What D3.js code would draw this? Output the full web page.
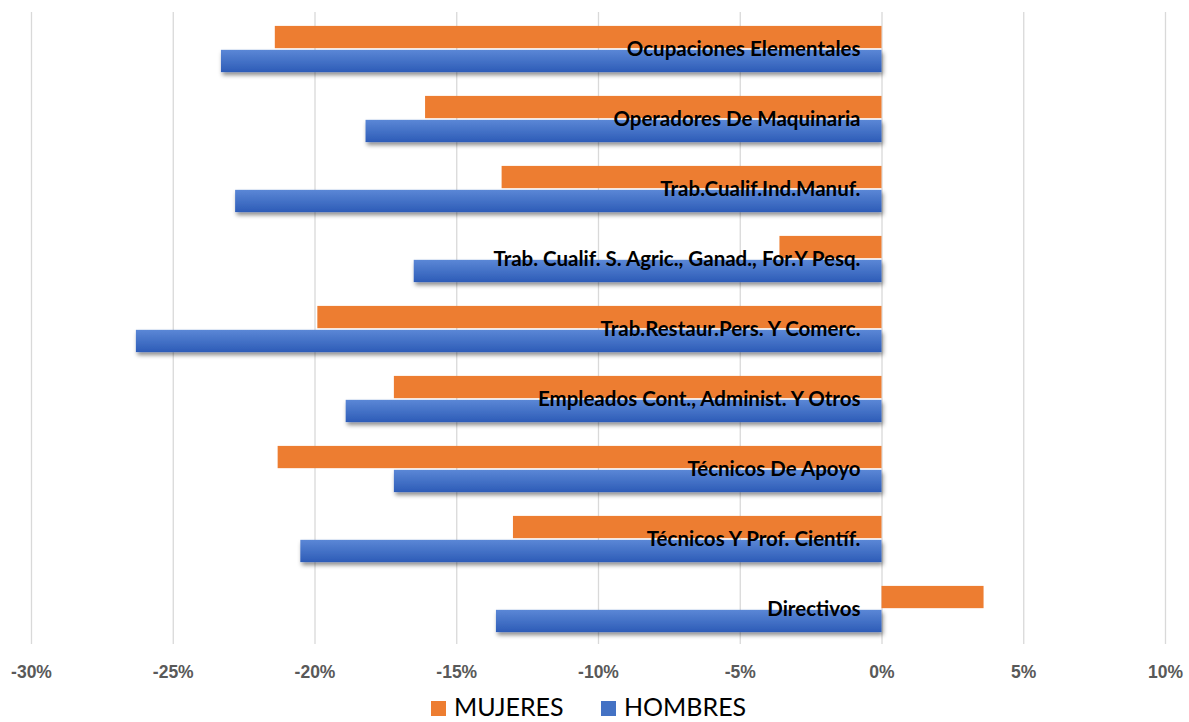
<!DOCTYPE html>
<html>
<head>
<meta charset="utf-8">
<script src="https://cdn.jsdelivr.net/npm/d3@7"></script>
<style>
  body { margin: 0; background: #fff; }
  svg { font-family: Lato, "Open Sans", sans-serif; }
</style>
</head>
<body>
<svg id="chart"></svg>
<script>
// categories top to bottom
const categories = [
  'Ocupaciones Elementales',
  'Operadores De Maquinaria',
  'Trab.Cualif.Ind.Manuf.',
  'Trab. Cualif. S. Agric., Ganad., For.Y Pesq.',
  'Trab.Restaur.Pers. Y Comerc.',
  'Empleados Cont., Administ. Y Otros',
  'Técnicos De Apoyo',
  'Técnicos Y Prof. Científ.',
  'Directivos'
];
const mujeres = [-21.4, -16.1, -13.4, -3.6, -19.9, -17.2, -21.3, -13.0, 3.6];
const hombres = [-23.3, -18.2, -22.8, -16.5, -26.3, -18.9, -17.2, -20.5, -13.6];
const ticks = [-30, -25, -20, -15, -10, -5, 0, 5, 10];
const series = ['MUJERES', 'HOMBRES'];

const width = 1189, height = 722;
const margin = {top: 14, right: 24, bottom: 78, left: 31};

const svg = d3.select('#chart')
    .attr('width', width)
    .attr('height', height);

const x = d3.scaleLinear()
    .domain([-30, 10])
    .range([margin.left, width - margin.right]);

const y = d3.scaleBand()
    .domain(categories)
    .range([margin.top, height - margin.bottom])
    .paddingInner(0.34)
    .paddingOuter(0.17);

const sub = d3.scaleBand()
    .domain(series)
    .range([0, y.bandwidth()])
    .paddingInner(0.07);

// defs: gradient + shadow for blue bars
const defs = svg.append('defs');
const grad = defs.append('linearGradient')
    .attr('id', 'blueGrad')
    .attr('x1', 0).attr('y1', 0).attr('x2', 0).attr('y2', 1);
grad.append('stop').attr('offset', '0%').attr('stop-color', '#5b87d6');
grad.append('stop').attr('offset', '100%').attr('stop-color', '#2d5cb7');

const shadow = defs.append('filter')
    .attr('id', 'shadow')
    .attr('x', '-5%').attr('y', '-30%')
    .attr('width', '110%').attr('height', '180%');
shadow.append('feDropShadow')
    .attr('dx', 1.5).attr('dy', 3)
    .attr('stdDeviation', 2)
    .attr('flood-color', '#000')
    .attr('flood-opacity', 0.45);

// gridlines
const xAxis = d3.axisBottom(x)
    .tickValues(ticks)
    .tickSize(-(height - margin.bottom - margin.top + 2))
    .tickFormat(d => d + '%');

const axisG = svg.append('g')
    .attr('transform', `translate(0,${height - margin.bottom})`)
    .call(xAxis);
axisG.select('.domain').remove();
axisG.selectAll('.tick line')
    .attr('stroke', '#d9d9d9')
    .attr('stroke-width', 1.3);
axisG.selectAll('.tick text')
    .attr('y', 22)
    .attr('fill', '#595959')
    .attr('font-size', 17.5)
    .attr('font-weight', 'bold');

// bars
const groups = svg.append('g')
  .selectAll('g')
  .data(categories)
  .join('g')
    .attr('transform', d => `translate(0,${y(d)})`);

groups.append('rect')
    .attr('x', (d, i) => x(Math.min(0, mujeres[i])))
    .attr('y', sub('MUJERES'))
    .attr('width', (d, i) => Math.abs(x(mujeres[i]) - x(0)))
    .attr('height', sub.bandwidth())
    .attr('fill', '#ed7d31');

groups.append('rect')
    .attr('x', (d, i) => x(Math.min(0, hombres[i])))
    .attr('y', sub('HOMBRES'))
    .attr('width', (d, i) => Math.abs(x(hombres[i]) - x(0)))
    .attr('height', sub.bandwidth())
    .attr('fill', 'url(#blueGrad)')
    .attr('filter', 'url(#shadow)');

// category labels
groups.append('text')
    .attr('x', x(0) - 21)
    .attr('y', y.bandwidth() / 2)
    .attr('dy', '0.35em')
    .attr('text-anchor', 'end')
    .attr('font-size', 20.5)
    .attr('font-weight', 'bold')
    .attr('fill', '#000')
    .text(d => d);

// legend
const legendColors = {MUJERES: '#ed7d31', HOMBRES: '#4472c4'};
const legend = svg.append('g')
    .attr('transform', `translate(431,${height - 6})`);
const legX = [0, 170];
series.forEach((s, i) => {
  const g = legend.append('g').attr('transform', `translate(${legX[i]},0)`);
  g.append('rect')
      .attr('x', 0).attr('y', -15)
      .attr('width', 15).attr('height', 15)
      .attr('fill', legendColors[s]);
  g.append('text')
      .attr('x', 23).attr('y', 0)
      .attr('font-size', 25)
      .attr('fill', '#000')
      .text(s);
});
</script>
</body>
</html>
